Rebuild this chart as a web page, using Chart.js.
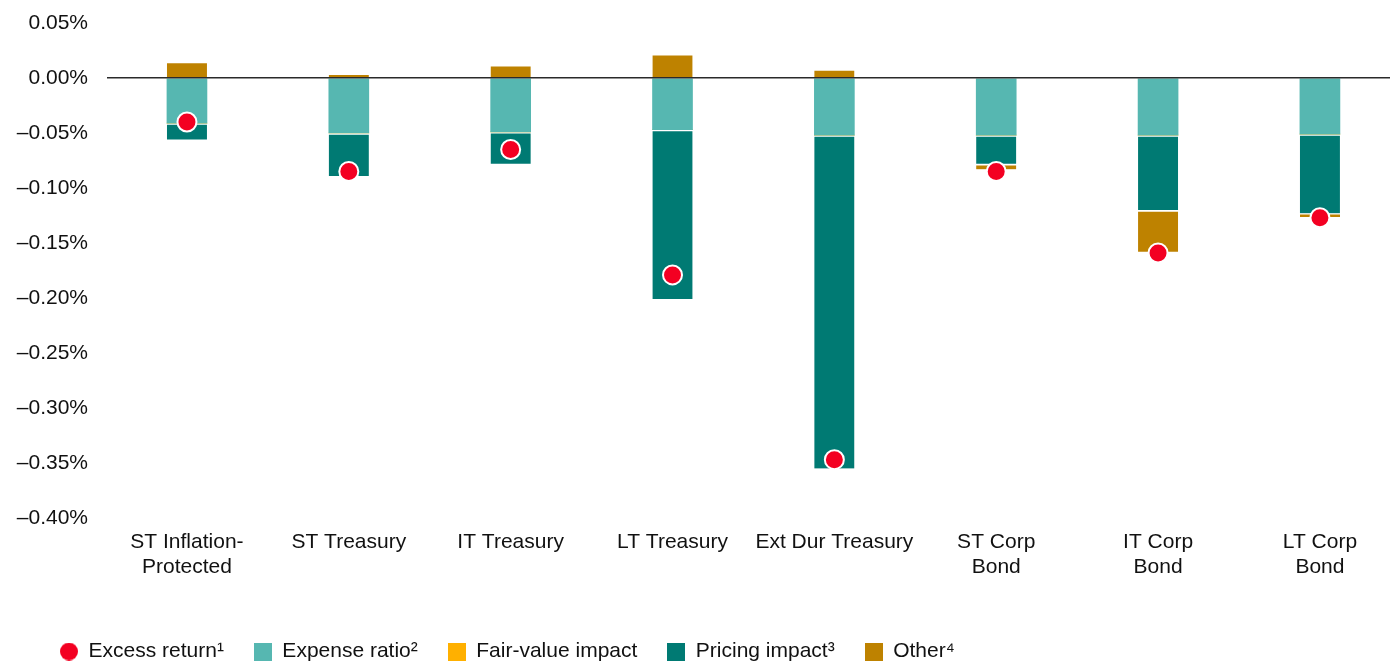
<!DOCTYPE html>
<html>
<head>
<meta charset="utf-8">
<script src="https://cdn.jsdelivr.net/npm/chart.js@4.4.1/dist/chart.umd.min.js"></script>
<style>
  html, body { margin: 0; padding: 0; background: #fff; overflow: hidden; }
  #wrap { position: relative; width: 1392px; height: 672px; }
</style>
</head>
<body>
<div id="wrap"><canvas id="c"></canvas></div>
<script>
// ---- Data (values in percent) ----
const categories = [
  ['ST Inflation-', 'Protected'],
  'ST Treasury',
  'IT Treasury',
  'LT Treasury',
  'Ext Dur Treasury',
  ['ST Corp', 'Bond'],
  ['IT Corp', 'Bond'],
  ['LT Corp', 'Bond']
];
const excessReturn   = [-0.040, -0.085, -0.065, -0.179, -0.347, -0.085, -0.159, -0.127];
const expenseRatio   = [-0.041, -0.050, -0.049, -0.047, -0.052, -0.052, -0.052, -0.051];
const fairValueImpact= [0, 0, 0, 0, 0, 0, 0, 0];
const pricingImpact  = [-0.015, -0.039, -0.029, -0.154, -0.303, -0.026, -0.068, -0.072];
const otherImpact    = [0.015, 0.004, 0.012, 0.022, 0.008, -0.005, -0.038, -0.003];
const yTickValues    = [0.05, 0, -0.05, -0.10, -0.15, -0.20, -0.25, -0.30, -0.35, -0.40];
const legendLabels   = ['Excess return\u00B9', 'Expense ratio\u00B2', 'Fair-value impact', 'Pricing impact\u00B3', 'Other\u2074'];

const COLORS = {
  excess: '#F30022',
  expense: '#56B7B1',
  fair: '#FFB000',
  pricing: '#007A73',
  other: '#BE8200'
};

const FONT = "'Liberation Sans', Arial, Helvetica, sans-serif";
const FS = 21;
const toXY = arr => arr.map((v, i) => ({ x: i, y: v }));

function swatch(color, shape) {
  const s = 18;
  const cv = document.createElement('canvas');
  cv.width = s; cv.height = s;
  const g = cv.getContext('2d');
  g.fillStyle = color;
  if (shape === 'circle') {
    g.beginPath(); g.arc(s / 2, s / 2, s / 2, 0, Math.PI * 2); g.fill();
  } else {
    g.fillRect(0, 0, s, s);
  }
  return cv;
}

const sepBorder = { top: 2, right: 0, bottom: 0, left: 0 };
const noBorder = { top: 0, right: 0, bottom: 0, left: 0 };
const barCommon = {
  type: 'bar',
  stack: 'a',
  order: 1,
  barThickness: 40,
  borderColor: '#ffffff',
  borderWidth: sepBorder,
  borderSkipped: false
};

const datasets = [
  {
    type: 'line',
    label: legendLabels[0],
    data: toXY(excessReturn),
    showLine: false,
    order: 0,
    pointRadius: 9.5,
    pointHoverRadius: 9.5,
    pointBackgroundColor: COLORS.excess,
    pointBorderColor: '#ffffff',
    pointBorderWidth: 2,
    _swatch: swatch(COLORS.excess, 'circle')
  },
  Object.assign({}, barCommon, { label: legendLabels[1], data: toXY(expenseRatio), backgroundColor: COLORS.expense, borderWidth: noBorder, _swatch: swatch(COLORS.expense) }),
  Object.assign({}, barCommon, { label: legendLabels[2], data: toXY(fairValueImpact), backgroundColor: COLORS.fair, _swatch: swatch(COLORS.fair) }),
  Object.assign({}, barCommon, { label: legendLabels[3], data: toXY(pricingImpact), backgroundColor: COLORS.pricing, _swatch: swatch(COLORS.pricing) }),
  Object.assign({}, barCommon, { label: legendLabels[4], data: toXY(otherImpact), backgroundColor: COLORS.other, _swatch: swatch(COLORS.other) })
];

function fmtPct(v) {
  const r = Math.round(v * 100) / 100;
  const s = Math.abs(r).toFixed(2) + '%';
  return r < 0 ? '\u2013' + s : s;
}

const legendShift = {
  id: 'legendShift',
  afterLayout(chart) { if (chart.legend) chart.legend.left += 30; }
};

function zeroPad(scale) {
  scale.paddingTop = 0; scale.paddingBottom = 0;
  scale.paddingLeft = 0; scale.paddingRight = 0;
}

new Chart(document.getElementById('c'), {
  data: { datasets },
  plugins: [legendShift],
  options: {
    responsive: true,
    maintainAspectRatio: false,
    animation: false,
    events: [],
    layout: { autoPadding: false, padding: { top: 23, left: 0, right: 2, bottom: 0 } },
    plugins: {
      tooltip: { enabled: false },
      legend: {
        position: 'bottom',
        align: 'start',
        labels: {
          usePointStyle: true,
          boxWidth: 18,
          boxHeight: 18,
          padding: 30,
          color: '#111',
          font: { family: FONT, size: FS },
          generateLabels: chart => chart.data.datasets.map((ds, i) => ({
            text: ds.label,
            fillStyle: ds.backgroundColor || ds.pointBackgroundColor,
            strokeStyle: 'transparent',
            lineWidth: 0,
            pointStyle: ds._swatch,
            datasetIndex: i,
            hidden: false,
            fontColor: '#111'
          }))
        }
      }
    },
    scales: {
      x: {
        type: 'linear',
        stacked: true,
        offset: false,
        min: -0.494,
        max: 7.433,
        grid: { display: false, drawTicks: false, offset: false },
        border: { display: false },
        afterBuildTicks: scale => { scale.ticks = categories.map((_, i) => ({ value: i })); },
        afterFit: scale => { scale.height = 93; zeroPad(scale); },
        ticks: {
          padding: 12,
          color: '#111',
          font: { family: FONT, size: FS, lineHeight: 1.19 },
          maxRotation: 0,
          autoSkip: false,
          callback: v => categories[v]
        }
      },
      y: {
        type: 'linear',
        stacked: true,
        min: -0.40,
        max: 0.05,
        border: { display: false },
        grid: {
          drawTicks: false,
          z: 1,
          lineWidth: 1.6,
          color: ctx => (Math.abs(ctx.tick.value) < 1e-9 ? '#2a2a2a' : 'rgba(0,0,0,0)')
        },
        afterBuildTicks: scale => { scale.ticks = yTickValues.map(v => ({ value: v })); },
        afterFit: scale => { scale.width = 107; zeroPad(scale); },
        ticks: {
          padding: 19,
          color: '#111',
          font: { family: FONT, size: FS },
          callback: v => fmtPct(v)
        }
      }
    }
  }
});
</script>
</body>
</html>
